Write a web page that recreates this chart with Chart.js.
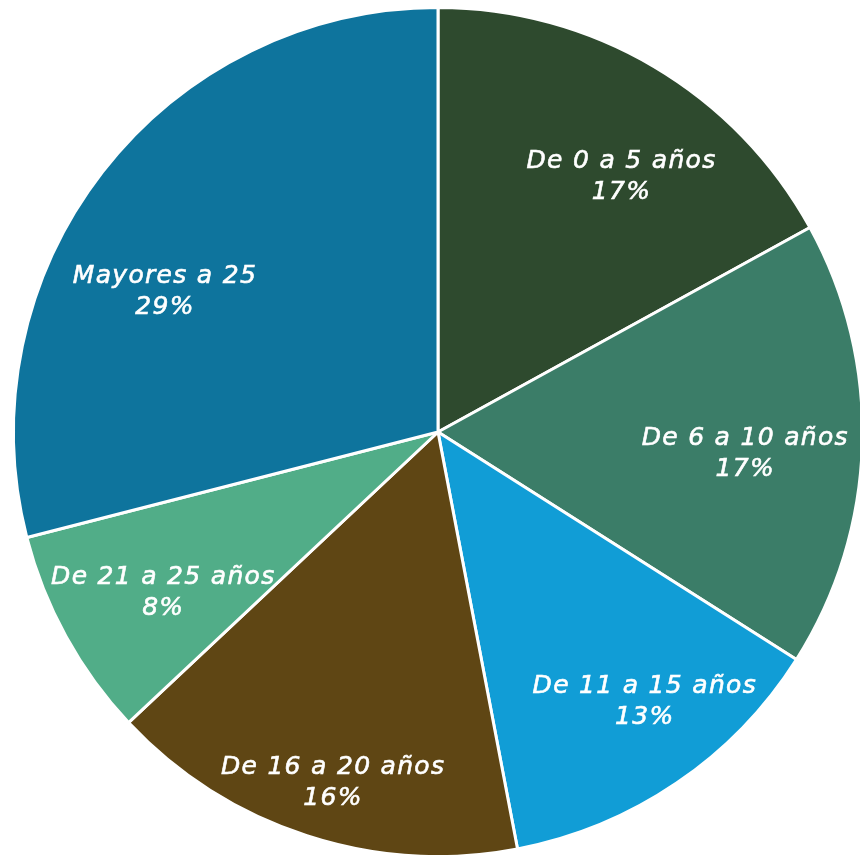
<!DOCTYPE html>
<html>
<head>
<meta charset="utf-8">
<script src="https://cdn.jsdelivr.net/npm/chart.js@4"></script>
<style>
  html, body { margin: 0; padding: 0; background: #ffffff; }
  #wrap { width: 860px; height: 855px; overflow: hidden; position: relative; }
  #chart { position: absolute; left: 0; top: 0; }
</style>
</head>
<body>
<div id="wrap"><canvas id="chart" width="880" height="880"></canvas></div>
<script>
// Age groups and their share of the total (%)
const categories = ['De 0 a 5 años', 'De 6 a 10 años', 'De 11 a 15 años', 'De 16 a 20 años', 'De 21 a 25 años', 'Mayores a 25'];
const shares = [17, 17, 13, 16, 8, 29];
const sliceColors = ['#2e4a2e', '#3b7d68', '#119dd6', '#5f4614', '#51ad88', '#0e749d'];

// Label placement inside each slice: distance from centre (fraction of radius)
// and a small angular nudge in degrees from the slice's middle.
const labelRadius = [0.748, 0.725, 0.793, 0.855, 0.745, 0.727];
const labelNudgeDeg = [4.7, 1.5, -3.7, -1.2, -0.9, -10];

const sliceLabels = {
  id: 'sliceLabels',
  afterDatasetsDraw(chart) {
    const ctx = chart.ctx;
    const meta = chart.getDatasetMeta(0);
    ctx.save();
    ctx.fillStyle = '#ffffff';
    ctx.strokeStyle = '#ffffff';
    ctx.lineWidth = 0.6;
    ctx.textAlign = 'center';
    ctx.textBaseline = 'alphabetic';
    ctx.font = 'oblique 25px "DejaVu Sans", sans-serif';
    ctx.letterSpacing = '1.3px';
    meta.data.forEach((arc, i) => {
      const p = arc.getProps(['x', 'y', 'startAngle', 'endAngle', 'outerRadius'], true);
      const mid = (p.startAngle + p.endAngle) / 2 + labelNudgeDeg[i] * Math.PI / 180;
      const r = p.outerRadius * labelRadius[i];
      const x = p.x + r * Math.cos(mid);
      const y = p.y + r * Math.sin(mid);
      ctx.fillText(categories[i], x, y - 5);
      ctx.strokeText(categories[i], x, y - 5);
      ctx.fillText(shares[i] + '%', x, y + 26);
      ctx.strokeText(shares[i] + '%', x, y + 26);
    });
    ctx.restore();
  }
};

new Chart(document.getElementById('chart'), {
  type: 'pie',
  data: {
    labels: categories,
    datasets: [{
      data: shares,
      backgroundColor: sliceColors,
      borderColor: '#ffffff',
      borderWidth: 3
    }]
  },
  options: {
    responsive: false,
    animation: false,
    layout: { padding: { left: 12, top: 6, right: 16, bottom: 22 } },
    plugins: {
      legend: { display: false },
      tooltip: { enabled: false }
    }
  },
  plugins: [sliceLabels]
});
</script>
</body>
</html>
